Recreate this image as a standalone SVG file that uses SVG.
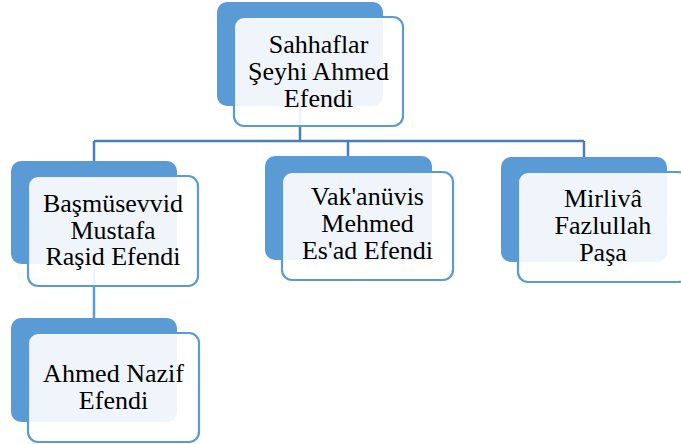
<svg xmlns="http://www.w3.org/2000/svg" width="681" height="444" viewBox="0 0 681 444">
<style>
.back{fill:#5b9bd5;}
.front{fill:#ffffff;fill-opacity:0.9;stroke:#5b9bd5;stroke-width:2.2;}
.conn{fill:none;stroke:#4a7ebb;stroke-width:2.5;}
.conn2{fill:none;stroke:#5b9bd5;stroke-width:2.5;}
text{font-family:"Liberation Serif","Times New Roman",serif;font-size:26px;fill:#000;text-anchor:middle;}
</style>
<rect width="681" height="444" fill="#ffffff"/>
<g id="connectors">
<path class="conn" d="M300,106 V141 M94,141 H584 M94,141 V162 M348,141 V156 M584,141 V157"/>
<path class="conn2" d="M94,264 V318"/>
</g>
<g id="n1">
<rect class="back" x="217" y="2" width="166" height="104" rx="10"/>
<rect class="front" x="234" y="17" width="169" height="109" rx="10"/>
<text x="318.5" y="53">Sahhaflar<tspan x="318.5" dy="27">Şeyhi Ahmed</tspan><tspan x="318.5" dy="27">Efendi</tspan></text>
</g>
<g id="n2">
<rect class="back" x="11" y="161" width="166" height="103" rx="10"/>
<rect class="front" x="28" y="176" width="170" height="110" rx="10"/>
<text x="113" y="212">Başmüsevvid<tspan x="113" dy="26.5">Mustafa</tspan><tspan x="113" dy="26.5">Raşid Efendi</tspan></text>
</g>
<g id="n3">
<rect class="back" x="265" y="156" width="167" height="104" rx="10"/>
<rect class="front" x="282" y="172" width="171" height="108" rx="10"/>
<text x="367.5" y="205">Vak'anüvis<tspan x="367.5" dy="27">Mehmed</tspan><tspan x="367.5" dy="27">Es'ad Efendi</tspan></text>
</g>
<g id="n4">
<rect class="back" x="501" y="157" width="166" height="105" rx="10"/>
<rect class="front" x="518" y="172" width="170" height="110" rx="10"/>
<text x="603" y="207">Mirlivâ<tspan x="603" dy="27">Fazlullah</tspan><tspan x="603" dy="27">Paşa</tspan></text>
</g>
<g id="n5">
<rect class="back" x="11" y="318" width="166" height="104" rx="10"/>
<rect class="front" x="28" y="333" width="171" height="109" rx="10"/>
<text x="113.5" y="381.5">Ahmed Nazif<tspan x="113.5" dy="27">Efendi</tspan></text>
</g>
</svg>
